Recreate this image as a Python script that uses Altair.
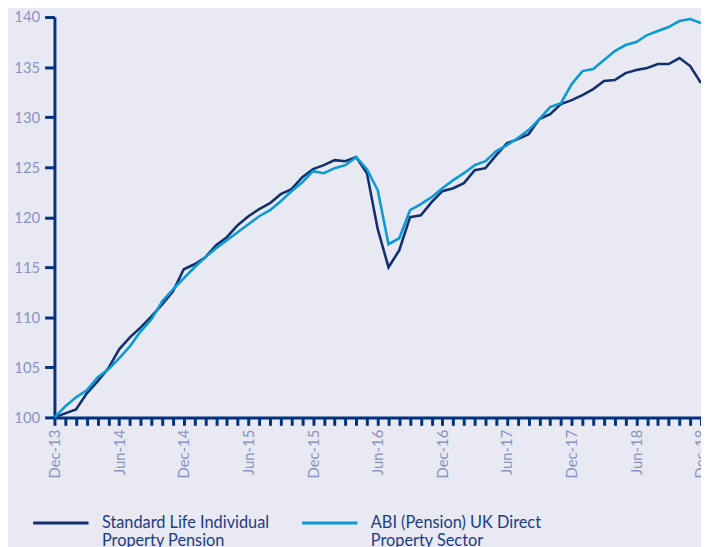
import altair as alt
import pandas as pd

months = [
    "Dec-13",
    "Jan-14", "Feb-14", "Mar-14", "Apr-14", "May-14", "Jun-14", "Jul-14", "Aug-14", "Sep-14", "Oct-14", "Nov-14", "Dec-14",
    "Jan-15", "Feb-15", "Mar-15", "Apr-15", "May-15", "Jun-15", "Jul-15", "Aug-15", "Sep-15", "Oct-15", "Nov-15", "Dec-15",
    "Jan-16", "Feb-16", "Mar-16", "Apr-16", "May-16", "Jun-16", "Jul-16", "Aug-16", "Sep-16", "Oct-16", "Nov-16", "Dec-16",
    "Jan-17", "Feb-17", "Mar-17", "Apr-17", "May-17", "Jun-17", "Jul-17", "Aug-17", "Sep-17", "Oct-17", "Nov-17", "Dec-17",
    "Jan-18", "Feb-18", "Mar-18", "Apr-18", "May-18", "Jun-18", "Jul-18", "Aug-18", "Sep-18", "Oct-18", "Nov-18", "Dec-18",
]

standard_life = [
    100.0,
    100.4, 100.8, 102.4, 103.6, 104.9, 106.8, 108.0, 109.0, 110.1, 111.3, 112.6, 114.8,
    115.3, 116.0, 117.2, 118.0, 119.2, 120.1, 120.8, 121.4, 122.3, 122.8, 124.0, 124.8,
    125.2, 125.7, 125.6, 126.0, 124.4, 118.8, 115.0, 116.7, 120.0, 120.2, 121.5, 122.6,
    122.9, 123.4, 124.7, 124.9, 126.2, 127.4, 127.8, 128.3, 129.8, 130.3, 131.3, 131.7,
    132.2, 132.8, 133.6, 133.7, 134.4, 134.7, 134.9, 135.3, 135.3, 135.9, 135.1, 133.4,
]

abi_sector = [
    100.0,
    101.1, 102.0, 102.7, 104.0, 104.8, 105.9, 107.1, 108.6, 109.8, 111.6, 112.8, 113.9,
    115.0, 116.0, 116.9, 117.7, 118.5, 119.3, 120.1, 120.7, 121.6, 122.6, 123.5, 124.6,
    124.4, 124.9, 125.2, 126.0, 124.8, 122.7, 117.3, 117.9, 120.7, 121.3, 122.0, 122.9,
    123.7, 124.4, 125.2, 125.6, 126.6, 127.2, 127.9, 128.7, 129.8, 131.0, 131.4, 133.3,
    134.6, 134.8, 135.7, 136.6, 137.2, 137.5, 138.2, 138.6, 139.0, 139.6, 139.8, 139.4,
]

series_names = [
    "Standard Life Individual Property Pension",
    "ABI (Pension) UK Direct Property Sector",
]
series_colors = ["#12306E", "#0B9AD6"]
y_ticks = [100, 105, 110, 115, 120, 125, 130, 135, 140]

rows = []
for i, m in enumerate(months):
    rows.append({"month": m, "series": series_names[0], "value": standard_life[i], "k": 0})
for i, m in enumerate(months):
    rows.append({"month": m, "series": series_names[1], "value": abi_sector[i], "k": 1})
df = pd.DataFrame(rows)

BG = "#E8E9F2"
NAVY = "#00337F"
LABEL = "#8A93C2"
FONT = "Lato"

label_expr = (
    "datum.label == 'Standard Life Individual Property Pension' ? "
    "['Standard Life Individual', 'Property Pension'] : "
    "['ABI (Pension) UK Direct', 'Property Sector']"
)

chart = alt.Chart(df).mark_line(strokeWidth=2.6).encode(
    x=alt.X(
        "month:O",
        sort=months,
        scale=alt.Scale(type="point", padding=0),
        axis=alt.Axis(
            title=None,
            labelAngle=-90,
            labelExpr="(slice(datum.label,0,3)=='Dec' || slice(datum.label,0,3)=='Jun') ? datum.label : ''",
            labelOverlap=False,
            tickSize=8,
            tickWidth=3,
            domainWidth=3,
            domainColor=NAVY,
            tickColor=NAVY,
            labelColor=LABEL,
            labelFont=FONT,
            labelFontSize=15,
            labelPadding=4,
            grid=False,
        ),
    ),
    y=alt.Y(
        "value:Q",
        scale=alt.Scale(domain=[100, 140], nice=False, zero=False),
        axis=alt.Axis(
            title=None,
            values=y_ticks,
            tickSize=10,
            tickWidth=3,
            domainWidth=3,
            domainColor=NAVY,
            tickColor=NAVY,
            labelColor=LABEL,
            labelFont=FONT,
            labelFontSize=15,
            labelPadding=5,
            grid=False,
        ),
    ),
    color=alt.Color(
        "series:N",
        sort=series_names,
        scale=alt.Scale(domain=series_names, range=series_colors),
        legend=alt.Legend(
            title=None,
            orient="none",
            legendX=-23,
            legendY=482,
            padding=0,
            direction="horizontal",
            symbolType="stroke",
            symbolSize=3136,
            symbolStrokeWidth=3,
            labelExpr=label_expr,
            labelFont=FONT,
            labelFontSize=16.5,
            labelColor="#1C3C85",
            labelOffset=12,
            labelLimit=400,
            labelBaseline="middle",
            columnPadding=26,
        ),
    ),
    order=alt.Order("k:Q"),
).properties(
    width=654,
    height=405,
    padding={"left": 47, "top": 6, "right": 0, "bottom": 131},
    autosize=alt.AutoSizeParams(type="none"),
    background=BG,
).configure_view(stroke=None, fill=BG)

chart.save("out.html", embed_options={"renderer": "svg", "actions": False})
